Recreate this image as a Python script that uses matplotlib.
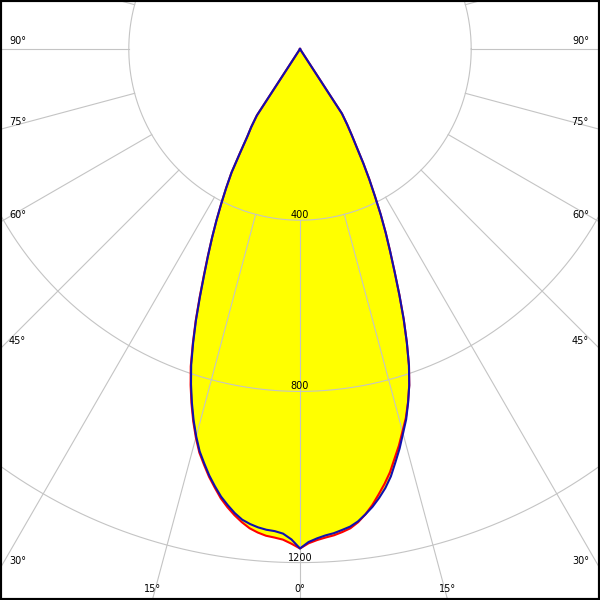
import numpy as np
import matplotlib
matplotlib.use("Agg")
import matplotlib.pyplot as plt

# ---- data (cd), gamma in degrees from nadir ----
gamma = list(range(0, 36))
blue_left = [1167, 1146, 1133, 1128, 1126, 1122, 1116, 1108, 1095, 1079,
             1062, 1041, 1019, 994, 969, 937, 902, 864, 824, 781,
             730, 678, 624, 573, 528, 486, 445, 405, 367, 330,
             280, 240, 215, 185, 0, 0]
blue_right = [1167, 1152, 1144, 1138, 1134, 1128, 1122, 1112, 1098, 1083,
              1065, 1045, 1021, 991, 962, 930, 900, 864, 826, 782,
              730, 676, 620, 566, 518, 474, 430, 385, 345, 305,
              265, 235, 208, 180, 0, 0]
red_left = [1167, 1156, 1147, 1143, 1140, 1134, 1126, 1114, 1100, 1084,
            1066, 1044, 1022, 997, 972, 940, 905, 867, 827, 784,
            732, 680, 626, 575, 529, 486, 445, 405, 367, 330,
            280, 240, 215, 185, 0, 0]
red_right = [1167, 1155, 1148, 1143, 1139, 1133, 1126, 1114, 1098, 1079,
             1057, 1035, 1011, 982, 955, 925, 897, 863, 826, 782,
             730, 676, 620, 566, 518, 474, 430, 385, 345, 305,
             265, 235, 208, 180, 0, 0]

ring_values = [400, 800, 1200, 1600]
ring_labels = ["400", "800", "1200"]
spoke_angles = list(range(0, 360, 15))
edge_labels = [90, 75, 60, 45, 30]
bottom_labels = [15, 0, 15]

# ---- layout ----
k = 0.428          # px per cd
cx_px, cy_px = 300, 49
W = H = 600

fig = plt.figure(figsize=(6, 6), dpi=100)
ax = fig.add_axes([0, 0, 1, 1])
ax.set_xlim(-cx_px / k, (W - cx_px) / k)
ax.set_ylim(-(H - cy_px) / k, cy_px / k)
ax.set_aspect('equal')
ax.set_xticks([]); ax.set_yticks([])
for s in ax.spines.values():
    s.set_linewidth(3)
    s.set_color('black')


def polar_xy(g, vals, side):
    g = np.radians(np.asarray(g, float))
    v = np.asarray(vals, float)
    return side * v * np.sin(g), -v * np.cos(g)


def curve(left, right):
    xl, yl = polar_xy(gamma, left, -1)
    xr, yr = polar_xy(gamma, right, 1)
    x = np.concatenate([xl[::-1], xr[1:]])
    y = np.concatenate([yl[::-1], yr[1:]])
    return x, y

xr_, yr_ = curve(red_left, red_right)
xb_, yb_ = curve(blue_left, blue_right)
ax.fill(xr_, yr_, color='#ffff00', zorder=1, lw=0)
ax.fill(xb_, yb_, color='#ffff00', zorder=1, lw=0)

grid_c = '#c4c4c4'
t = np.linspace(0, 2 * np.pi, 720)
for r in ring_values:
    ax.plot(r * np.cos(t), r * np.sin(t), color=grid_c, lw=0.8, zorder=2)
for a in spoke_angles:
    ar = np.radians(a)
    ax.plot([400 * np.sin(ar), 3000 * np.sin(ar)], [-400 * np.cos(ar), -3000 * np.cos(ar)],
            color=grid_c, lw=0.8, zorder=2)

ax.plot(xr_, yr_, color='#ff0000', lw=1.5, zorder=3, solid_joinstyle='round')
ax.plot(xb_, yb_, color='#1010b0', lw=1.5, zorder=4, solid_joinstyle='round')

for r, lab in zip(ring_values, ring_labels):
    ax.annotate(lab, xy=(0, -r), xytext=(0, 0), textcoords='offset points',
                ha='center', va='bottom', fontsize=7, zorder=5)

# angle labels on the side borders
for a in edge_labels:
    ar = np.radians(a)
    yb = -(cx_px / k) / np.tan(ar) if a != 90 else 0.0
    for side, ha, dx in [(-1, 'left', 6.5), (1, 'right', -8)]:
        ax.annotate(f"{a}°", xy=(side * cx_px / k, yb), xytext=(dx, 5.5),
                    textcoords='offset points', ha=ha, va='center', fontsize=7, zorder=5)

# angle labels on the bottom border
ybot = -(H - cy_px) / k
for a, side in zip(bottom_labels, [-1, 0, 1]):
    ar = np.radians(a)
    xb = side * abs(ybot) * np.tan(ar)
    ax.annotate(f"{a}°", xy=(xb, ybot), xytext=(0, 8),
                textcoords='offset points', ha='center', va='center', fontsize=7, zorder=5)

fig.savefig('out.png', dpi=100)
